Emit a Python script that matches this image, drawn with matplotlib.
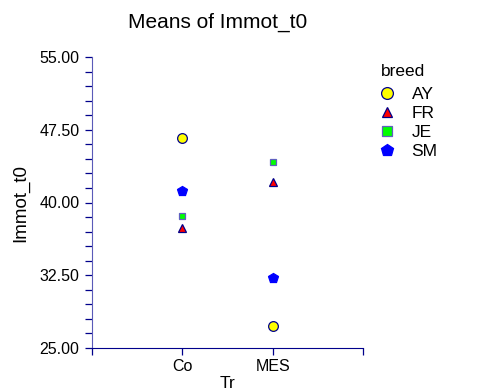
import matplotlib.pyplot as plt
from matplotlib.lines import Line2D
from matplotlib.ticker import FixedLocator

plt.rcParams['font.family'] = ['Liberation Sans', 'DejaVu Sans']

treatments = ["Co", "MES"]
breeds = ["AY", "FR", "JE", "SM"]
means = {
    "AY": [46.7, 27.3],
    "FR": [37.4, 42.1],
    "JE": [38.65, 44.2],
    "SM": [41.2, 32.2],
}
y_ticks = [25, 32.5, 40, 47.5, 55]

styles = {
    "AY": dict(marker="o", color="#ffff00", ms=7.0, mec="#00008b"),
    "FR": dict(marker="^", color="#ff0000", ms=6.0, mec="#00008b"),
    "JE": dict(marker="s", color="#00ff00", ms=5.0, mec="#6060c0"),
    "SM": dict(marker="p", color="#0000ff", ms=7.5, mec="#0000ff"),
}

navy = "#00008b"

fig = plt.figure(figsize=(4.96, 3.92), dpi=100)
ax = fig.add_axes([92 / 496, 44 / 392, 271 / 496, 291 / 392])

xs = range(1, len(treatments) + 1)
for b in breeds:
    st = styles[b]
    ax.plot(xs, means[b], linestyle="none", marker=st["marker"], ms=st["ms"],
            mfc=st["color"], mec=st["mec"], mew=0.9, clip_on=False)

ax.set_xlim(0, 3)
ax.set_ylim(25, 55)
ax.set_xticks([0, 1, 2, 3])
ax.set_xticklabels([""] + treatments + [""])
ax.set_yticks(y_ticks)
ax.set_yticklabels([f"{t:.2f}" for t in y_ticks])
ax.yaxis.set_minor_locator(FixedLocator([25 + 1.5 * k for k in range(21)]))

for s in ["top", "right"]:
    ax.spines[s].set_visible(False)
ax.spines["left"].set_color("#5a5ab8")
ax.spines["bottom"].set_color(navy)
ax.tick_params(axis="both", which="both", colors=navy, labelcolor="black",
               length=5, width=0.9, labelsize=11.5)
ax.tick_params(axis="x", pad=3)
ax.tick_params(axis="y", pad=4)

ax.set_xlabel("Tr", fontsize=12.5, labelpad=1)
ax.set_ylabel("Immot_t0", fontsize=13.5, labelpad=7)
fig.text(218 / 496, 1 - 22 / 392, "Means of Immot_t0", fontsize=15,
         ha="center", va="center")

# legend title drawn separately so the gap above the entries can be set
fig.text(381 / 496, 1 - 71 / 392, "breed", fontsize=12.5, ha="left", va="center")
handles = [Line2D([], [], linestyle="none", marker=styles[b]["marker"],
                  ms=styles[b]["ms"] + 1.5, mfc=styles[b]["color"],
                  mec=styles[b]["mec"], mew=0.9) for b in breeds]
leg = fig.legend(handles, breeds, loc="upper left",
                 bbox_to_anchor=(370 / 496, 1 - 78 / 392), frameon=False,
                 fontsize=12.5, handlelength=1.0,
                 handletextpad=0.9, labelspacing=0.22, borderpad=0)

fig.savefig("out.png", dpi=100)
